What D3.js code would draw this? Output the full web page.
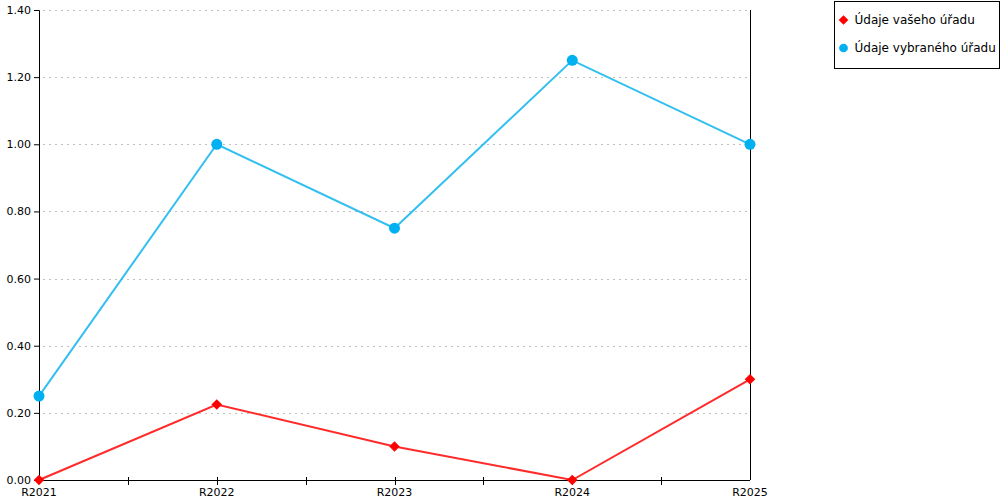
<!DOCTYPE html>
<html>
<head>
<meta charset="utf-8">
<script src="https://cdn.jsdelivr.net/npm/d3@7"></script>
<style>
  body { margin: 0; background: #fff; }
  svg { font-family: "DejaVu Sans", sans-serif; }
</style>
</head>
<body>
<script>
var categories = ["R2021", "R2022", "R2023", "R2024", "R2025"];
var seriesNames = ["Údaje vašeho úřadu", "Údaje vybraného úřadu"];
var yourOffice = [0, 0.225, 0.10, 0, 0.30];
var selectedOffice = [0.25, 1.00, 0.75, 1.25, 1.00];
var yTicks = [0, 0.2, 0.4, 0.6, 0.8, 1.0, 1.2, 1.4];

var width = 1000, height = 500;
var margin = {top: 10, right: 250, bottom: 20, left: 39};
var w = width - margin.left - margin.right;
var h = height - margin.top - margin.bottom;

var svg = d3.select("body").append("svg")
  .attr("width", width)
  .attr("height", height);

var g = svg.append("g")
  .attr("transform", "translate(" + margin.left + "," + margin.top + ")");

var xScale = d3.scalePoint()
  .domain(categories)
  .range([0, w]);

var yScale = d3.scaleLinear()
  .domain([0, 1.4])
  .range([h, 0]);

// dotted gridlines
g.selectAll(".grid")
  .data(yTicks.slice(1))
  .enter().append("line")
  .attr("class", "grid")
  .attr("x1", 4)
  .attr("x2", w)
  .attr("y1", function(d) { return Math.round(yScale(d)) + 0.5; })
  .attr("y2", function(d) { return Math.round(yScale(d)) + 0.5; })
  .attr("stroke", "#c0c0c0")
  .attr("stroke-dasharray", "2,4");

// y axis
var yAxis = g.append("g")
  .call(d3.axisLeft(yScale).tickValues(yTicks).tickFormat(d3.format(".2f")).tickSize(5).tickPadding(3));
yAxis.selectAll("text").attr("font-size", 11).attr("fill", "#000").attr("font-family", "DejaVu Sans");
yAxis.select(".domain").attr("stroke", "#000");

// right border line
g.append("line")
  .attr("x1", w + 0.5).attr("x2", w + 0.5)
  .attr("y1", 0).attr("y2", h)
  .attr("stroke", "#000");

// x axis with crossing ticks at categories and midpoints
var xAxis = g.append("g")
  .attr("transform", "translate(0," + h + ")");
xAxis.append("line")
  .attr("x1", 0).attr("x2", w)
  .attr("y1", 0.5).attr("y2", 0.5)
  .attr("stroke", "#000");

var step = xScale.step();
var tickPos = [];
categories.forEach(function(c, i) {
  if (i > 0) tickPos.push(xScale(c) - step / 2);
  if (i > 0 && i < categories.length - 1) tickPos.push(xScale(c));
});
xAxis.selectAll(".xtick")
  .data(tickPos)
  .enter().append("line")
  .attr("x1", function(d) { return Math.round(d) + 0.5; })
  .attr("x2", function(d) { return Math.round(d) + 0.5; })
  .attr("y1", -3).attr("y2", 5)
  .attr("stroke", "#000");

xAxis.selectAll(".xlabel")
  .data(categories)
  .enter().append("text")
  .attr("x", function(d) { return xScale(d); })
  .attr("y", 16)
  .attr("text-anchor", "middle")
  .attr("font-size", 11)
  .attr("fill", "#000")
  .text(function(d) { return d; });

var line = d3.line()
  .x(function(d, i) { return xScale(categories[i]); })
  .y(function(d) { return yScale(d); });

// blue series
g.append("path")
  .datum(selectedOffice)
  .attr("fill", "none")
  .attr("stroke", "#33bff0")
  .attr("stroke-width", 2)
  .attr("d", line);

g.selectAll(".dot-blue")
  .data(selectedOffice)
  .enter().append("circle")
  .attr("cx", function(d, i) { return xScale(categories[i]); })
  .attr("cy", function(d) { return yScale(d); })
  .attr("r", 5.5)
  .attr("fill", "#00b0f0");

// red series
g.append("path")
  .datum(yourOffice)
  .attr("fill", "none")
  .attr("stroke", "#ff2a2a")
  .attr("stroke-width", 2)
  .attr("d", line);

var diamond = d3.symbol().type(d3.symbolDiamond2).size(70);
g.selectAll(".dot-red")
  .data(yourOffice)
  .enter().append("path")
  .attr("transform", function(d, i) { return "translate(" + xScale(categories[i]) + "," + yScale(d) + ")"; })
  .attr("d", diamond)
  .attr("fill", "#ff0000");

// legend
var legend = svg.append("g").attr("transform", "translate(834.5,1.5)");
legend.append("rect")
  .attr("width", 165).attr("height", 67)
  .attr("fill", "#fff").attr("stroke", "#000");

var items = legend.selectAll(".item")
  .data(seriesNames)
  .enter().append("g")
  .attr("transform", function(d, i) { return "translate(0," + (18.5 + i * 28) + ")"; });

items.append("path")
  .attr("transform", "translate(9,0)")
  .attr("d", function(d, i) {
    return i === 0 ? d3.symbol().type(d3.symbolDiamond2).size(60)() : d3.symbol().type(d3.symbolCircle).size(60)();
  })
  .attr("fill", function(d, i) { return i === 0 ? "#ff0000" : "#00b0f0"; });

items.append("text")
  .attr("x", 20)
  .attr("y", 4)
  .attr("font-size", 12)
  .attr("fill", "#000")
  .text(function(d) { return d; });
</script>
</body>
</html>
